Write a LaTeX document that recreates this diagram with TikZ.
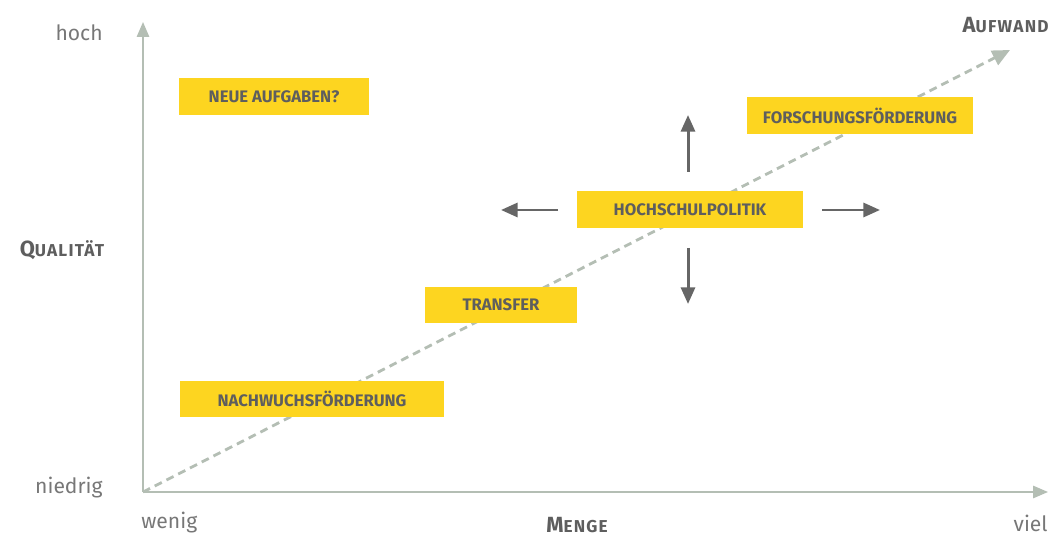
\documentclass[tikz,border=0pt]{standalone}
\usepackage{fontspec}
\setmainfont{Fira Sans}
\usepackage{tikz}
\usetikzlibrary{arrows.meta}
\usetikzlibrary{positioning}

\definecolor{boxyellow}{HTML}{FDD520}
\definecolor{boxtext}{HTML}{5E5E5E}
\definecolor{axisgrey}{HTML}{B4BEB4}
\definecolor{arrowgrey}{HTML}{666666}
\definecolor{labelgrey}{HTML}{777777}

\tikzset{
  field/.style = {fill = boxyellow, text = boxtext, font = \fontsize{9.5}{11}\selectfont\bfseries,
                  minimum height = 0.74cm, inner sep = 0pt},
  scalelabel/.style = {text = labelgrey, font = \fontsize{12}{14}\selectfont, inner sep = 0pt},
  axislabel/.style = {text = boxtext, font = \fontsize{12.5}{15}\selectfont\bfseries\addfontfeature{LetterSpace=7}, inner sep = 0pt},
  axisline/.style = {draw = axisgrey, line width = 1.1pt, -{Triangle[width=7pt, length=8.5pt]}},
  pushline/.style = {draw = arrowgrey, line width = 1.7pt, -{Triangle[width=8pt, length=9.5pt]}}
}

\newcommand{\capsword}[2]{#1{\fontsize{9.8}{12}\selectfont #2}}

\begin{document}
\begin{tikzpicture}[x = 0.02cm, y = -0.02cm]
\useasboundingbox (0,0) rectangle (1051,536);

\coordinate (O)    at (143,492);
\coordinate (Ytop) at (143,22);
\coordinate (Xend) at (1048,492);
\coordinate (Dend) at (1010,50);

% axes and trend
\path[axisline] (O) -- (Ytop);
\path[axisline] (O) -- (Xend);
\path[draw = axisgrey, line width = 1.6pt, dash pattern = on 4.5pt off 3pt,
      -{Triangle[width=9pt, length=10pt]}] (O) -- (Dend);

% scale texts
\node[scalelabel, anchor = east] (hoch)    at (103,33)  {hoch};
\node[scalelabel, anchor = east] (niedrig) at (103,488) {niedrig};
\node[scalelabel, anchor = west] (wenig)   at (141,523) {wenig};
\node[scalelabel, anchor = east] (viel)    at (1048,523) {viel};

\node[axislabel] (quali)  at (62,250) {\capsword{Q}{UALITÄT}};
\node[axislabel] (menge)  at (577,525) {\capsword{M}{ENGE}};
\node[axislabel, anchor = east] (aufwand) at (1049,25) {\capsword{A}{UFWAND}};

% fields
\node[field, minimum width = 3.8cm]  (neu)    at (274,97)  {NEUE AUFGABEN?};
\node[field, minimum width = 4.54cm] (forsch) at (860,116) {FORSCHUNGSFÖRDERUNG};
\node[field, minimum width = 4.54cm] (hspol)  at (690,210) {HOCHSCHULPOLITIK};
\node[field, minimum width = 3.04cm] (trans)  at (501,305) {TRANSFER};
\node[field, minimum width = 5.3cm]  (nachw)  at (312,399) {NACHWUCHSFÖRDERUNG};

% pushes
\coordinate (upA)    at (688,172);
\coordinate (up)     at (688,115);
\coordinate (downA)  at (688,248);
\coordinate (down)   at (688,304);
\coordinate (leftA)  at (558,210);
\coordinate (left)   at (501,210);
\coordinate (rightA) at (822,210);
\coordinate (right)  at (880,210);

\path[pushline] (upA) -- (up);
\path[pushline] (downA) -- (down);
\path[pushline] (leftA) -- (left);
\path[pushline] (rightA) -- (right);
\end{tikzpicture}
\end{document}
